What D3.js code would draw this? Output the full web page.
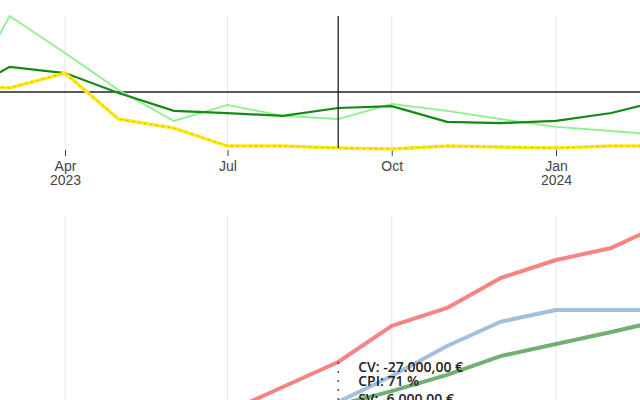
<!DOCTYPE html>
<html>
<head>
<meta charset="utf-8">
<script src="https://cdn.jsdelivr.net/npm/d3@7"></script>
<style>
  body { margin: 0; background: #fff; }
  svg { display: block; font-family: "Open Sans", "DejaVu Sans", sans-serif; }
</style>
</head>
<body>
<div id="chart"></div>
<script>
// monthly dates (first of each month)
const months = ['2023-02-01', '2023-03-01', '2023-04-01', '2023-05-01', '2023-06-01', '2023-07-01',
  '2023-08-01', '2023-09-01', '2023-10-01', '2023-11-01', '2023-12-01', '2024-01-01',
  '2024-02-01', '2024-03-01'];

// upper panel: performance indices
const cpiValues = [1.036, 1.021, 1.098, 0.860, 0.813, 0.720, 0.720, 0.710, 0.705, 0.720, 0.715, 0.710, 0.720, 0.720];
const spiValues = [0.984, 1.130, 1.098, 0.995, 0.902, 0.891, 0.876, 0.917, 0.927, 0.845, 0.839, 0.850, 0.891, 0.959];
const trendValues = [0.912, 1.394, 1.202, 1.010, 0.850, 0.933, 0.876, 0.860, 0.938, 0.902, 0.860, 0.819, 0.798, 0.777];

// lower panel: cumulative costs in €
const lowerMonths = ['2023-07-01', '2023-08-01', '2023-09-01', '2023-10-01', '2023-11-01',
  '2023-12-01', '2024-01-01', '2024-02-01', '2024-03-01'];
const acValues = [63600, 78300, 93000, 114200, 124800, 142400, 153000, 160100, 174200];
const pvValues = [52000, 61000, 69500, 84800, 102400, 116700, 123600, 123600, 123600];
const evValues = [50000, 59000, 67700, 75900, 85400, 96500, 103600, 110600, 117700];

const tickDates = ['2023-04-01', '2023-07-01', '2023-10-01', '2024-01-01'];
const tickLabels = [['Apr', '2023'], ['Jul'], ['Oct'], ['Jan', '2024']];

const statusDate = '2023-09-01';
const hoverLines = ['CV: -27.000,00 €', 'CPI: 71 %', 'SV: -6.000,00 €'];

const W = 640, H = 400;
const parse = d3.timeParse('%Y-%m-%d');

const svg = d3.select('#chart').append('svg')
  .attr('width', W)
  .attr('height', H);

const x = d3.scaleTime()
  .domain([parse(tickDates[0]), parse(tickDates[3])])
  .range([65, 556]);

// upper panel area
const top1 = 16, bottom1 = 149;
const y1 = d3.scaleLinear().domain([1, 0.5]).range([92, 188.5]);

// lower panel area
const top2 = 216, bottom2 = 400;
const y2 = d3.scaleLinear().domain([93000, 0]).range([362, 362 + 93000 * 0.0017]);

svg.append('clipPath').attr('id', 'clip1')
  .append('rect').attr('x', 0).attr('y', top1 - 2).attr('width', W).attr('height', bottom1 - top1 + 4);
svg.append('clipPath').attr('id', 'clip2')
  .append('rect').attr('x', 0).attr('y', top2).attr('width', W).attr('height', bottom2 - top2);

// grid lines
[[top1, bottom1], [top2, bottom2]].forEach(([t, b]) => {
  svg.append('g')
    .selectAll('line')
    .data(tickDates)
    .join('line')
    .attr('x1', d => x(parse(d)))
    .attr('x2', d => x(parse(d)))
    .attr('y1', t)
    .attr('y2', b)
    .attr('stroke', '#e6e6e6')
    .attr('stroke-width', 1);
});

// x axis of upper panel
const axis = svg.append('g')
  .attr('transform', `translate(0, ${bottom1 + 1})`)
  .call(d3.axisBottom(x)
    .tickValues(tickDates.map(parse))
    .tickSize(6)
    .tickFormat(''));
axis.select('.domain').remove();
axis.selectAll('.tick line').attr('stroke', '#444');
axis.selectAll('.tick text').remove();
axis.selectAll('.tick').each(function(d, i) {
  const t = d3.select(this).append('text')
    .attr('fill', '#444')
    .attr('font-size', 14)
    .attr('text-anchor', 'middle')
    .attr('y', 20.5);
  tickLabels[i].forEach((s, k) => {
    t.append('tspan').attr('x', 0).attr('dy', k === 0 ? 0 : 14).text(s);
  });
});

// reference line at 1.0
svg.append('line')
  .attr('x1', 0).attr('x2', W)
  .attr('y1', y1(1)).attr('y2', y1(1))
  .attr('stroke', '#222').attr('stroke-width', 1.3);

const line1 = values => d3.line()
  .x((d, i) => x(parse(months[i])))
  .y(d => y1(d))(values);

const g1 = svg.append('g').attr('clip-path', 'url(#clip1)');

g1.append('path')
  .attr('d', line1(trendValues))
  .attr('fill', 'none')
  .attr('stroke', '#90ee90')
  .attr('stroke-width', 1.8);

g1.append('path')
  .attr('d', line1(spiValues))
  .attr('fill', 'none')
  .attr('stroke', '#138a13')
  .attr('stroke-width', 2.2);

g1.append('path')
  .attr('d', line1(cpiValues))
  .attr('fill', 'none')
  .attr('stroke', '#ffe81a')
  .attr('stroke-width', 3.5);

g1.append('path')
  .attr('d', line1(cpiValues))
  .attr('fill', 'none')
  .attr('stroke', '#c9b21a')
  .attr('stroke-width', 1)
  .attr('stroke-dasharray', '2,4');

// status date marker
svg.append('line')
  .attr('x1', x(parse(statusDate))).attr('x2', x(parse(statusDate)))
  .attr('y1', top1).attr('y2', y1(cpiValues[months.indexOf(statusDate)]))
  .attr('stroke', '#222').attr('stroke-width', 1.3);

// lower panel lines
const line2 = values => d3.line()
  .x((d, i) => x(parse(lowerMonths[i])))
  .y(d => y2(d))(values);

const g2 = svg.append('g').attr('clip-path', 'url(#clip2)');

[[acValues, 'rgba(244, 90, 90, 0.75)'],
 [pvValues, 'rgba(100, 150, 200, 0.6)'],
 [evValues, 'rgba(40, 130, 40, 0.65)']].forEach(([vals, color]) => {
  g2.append('path')
    .attr('d', line2(vals))
    .attr('fill', 'none')
    .attr('stroke', color)
    .attr('stroke-width', 4)
    .attr('stroke-linejoin', 'round');
});

// hover spike + labels
const sx = x(parse(statusDate));
svg.append('line')
  .attr('x1', sx).attr('x2', sx)
  .attr('y1', y2(acValues[2]))
  .attr('y2', bottom2)
  .attr('stroke', '#222')
  .attr('stroke-width', 1.2)
  .attr('stroke-dasharray', '2,7');

svg.append('g')
  .selectAll('text')
  .data(hoverLines)
  .join('text')
  .attr('x', sx + 20)
  .attr('y', (d, i) => [372, 386, 404][i])
  .attr('font-size', 14)
  .attr('font-weight', 600)
  .attr('fill', '#222')
  .text(d => d);
</script>
</body>
</html>
